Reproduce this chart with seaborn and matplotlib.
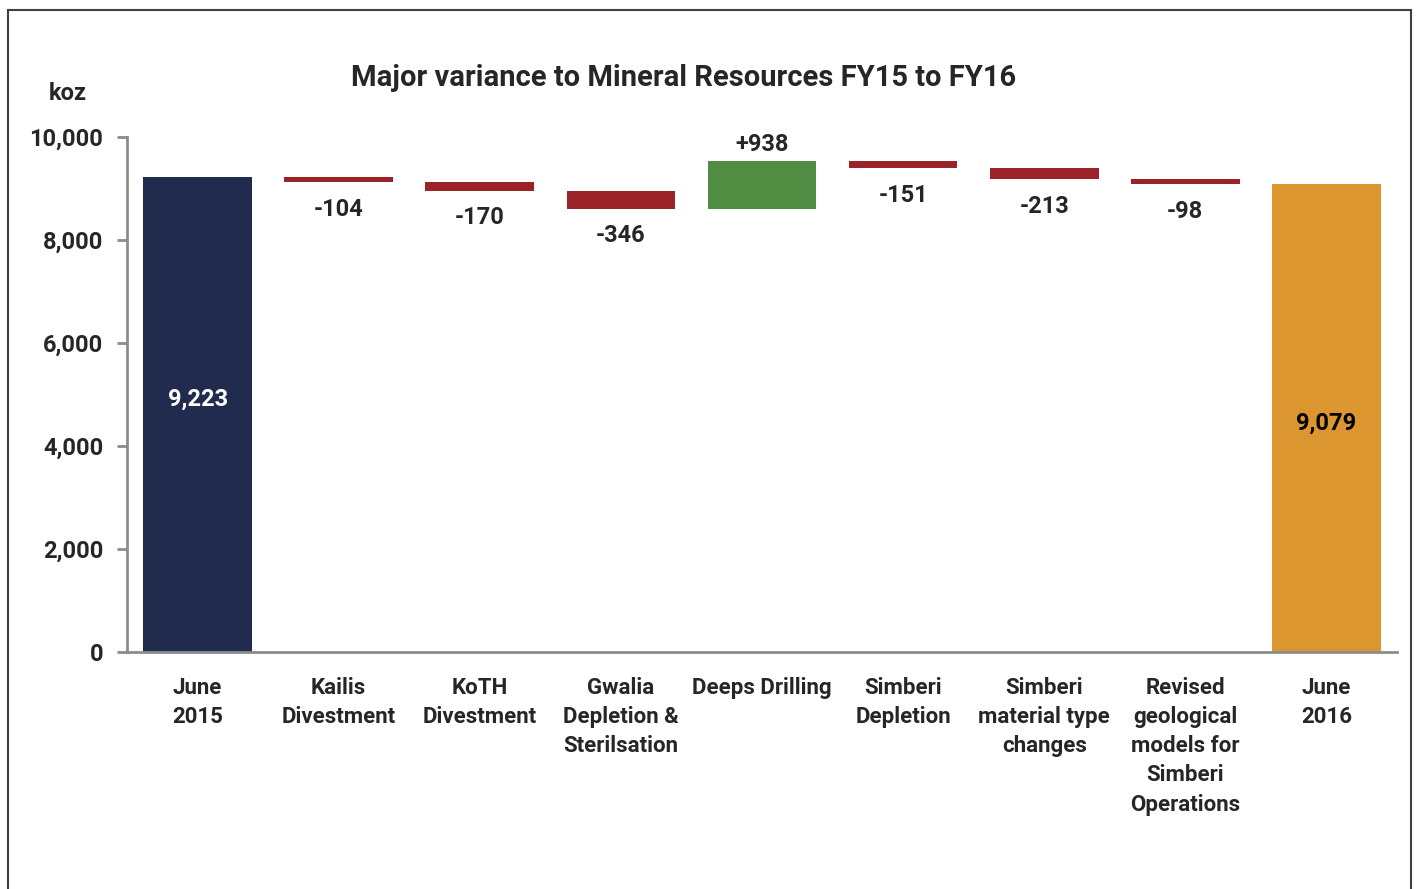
import matplotlib
matplotlib.use("Agg")
import matplotlib.pyplot as plt
import seaborn as sns
import numpy as np
from matplotlib.patches import Rectangle

# data
categories = ["June\n2015", "Kailis\nDivestment", "KoTH\nDivestment",
              "Gwalia\nDepletion &\nSterilsation", "Deeps Drilling",
              "Simberi\nDepletion", "Simberi\nmaterial type\nchanges",
              "Revised\ngeological\nmodels for\nSimberi\nOperations",
              "June\n2016"]
start_total = 9223
changes = [-104, -170, -346, 938, -151, -213, -98]
end_total = 9079

bar_colors = ["#202B4D"] + ["#9B2229" if c < 0 else "#518C43" for c in changes] + ["#DC962F"]

# waterfall geometry
running = start_total + np.cumsum([0] + changes)
bottoms = [0]
tops = [start_total]
for i, c in enumerate(changes):
    prev = running[i]
    bottoms.append(min(prev, prev + c))
    tops.append(max(prev, prev + c))
bottoms.append(0)
tops.append(end_total)

sns.set_theme(style="white")
plt.rcParams["font.family"] = ["Roboto", "DejaVu Sans"]
plt.rcParams["font.weight"] = "bold"

fig = plt.figure(figsize=(14.16, 8.89), dpi=100)
ax = fig.add_axes([0.0897, 0.2666, 0.8969, 0.5793])

x = list(range(len(categories)))
sns.barplot(x=x, y=tops, hue=x, palette=bar_colors, legend=False,
            width=0.77, saturation=1, linewidth=0, ax=ax)
sns.barplot(x=x, y=bottoms, color="white", width=0.79, saturation=1,
            linewidth=0, ax=ax)

ax.set_xlim(-0.5, len(categories) - 0.5)
ax.set_ylim(0, 10000)
ax.set_yticks(range(0, 10001, 2000))
ax.set_yticklabels([f"{v:,}" for v in range(0, 10001, 2000)], fontsize=17, fontweight="bold")
ax.set_xticks(x)
ax.set_xticklabels(categories, fontsize=16, fontweight="bold", linespacing=1.42)
ax.set_xticks(np.arange(-0.5, len(categories)), minor=True)
ax.tick_params(axis="x", which="major", length=0, pad=18)
ax.tick_params(axis="x", which="minor", length=7, width=2, color="#8C8C8C", direction="out")
ax.tick_params(axis="y", length=7, width=2, color="#8C8C8C", direction="out", pad=10, left=True)
for lbl in ax.get_xticklabels():
    lbl.set_verticalalignment("top")
ax.set_xlabel("")
ax.set_ylabel("")
for s in ["top", "right"]:
    ax.spines[s].set_visible(False)
for s in ["left", "bottom"]:
    ax.spines[s].set_color("#8C8C8C")
    ax.spines[s].set_linewidth(2)

# value labels
ax.text(0, start_total / 2 + 300, f"{start_total:,}", color="white", ha="center",
        va="center", fontsize=17, fontweight="bold")
ax.text(len(categories) - 1, end_total / 2 - 100, f"{end_total:,}", color="black",
        ha="center", va="center", fontsize=17, fontweight="bold")
for i, c in enumerate(changes, start=1):
    if c < 0:
        ax.annotate(f"{c}", (i, bottoms[i]), xytext=(0, -11), textcoords="offset points",
                    ha="center", va="top", fontsize=17, fontweight="bold")
    else:
        ax.annotate(f"+{c}", (i, tops[i]), xytext=(0, 3), textcoords="offset points",
                    ha="center", va="bottom", fontsize=17, fontweight="bold")

fig.text(684 / 1416, 1 - 78 / 889, "Major variance to Mineral Resources FY15 to FY16",
         ha="center", va="center", fontsize=21, fontweight="bold")
fig.text(68 / 1416, 1 - 94 / 889, "koz", ha="center", va="center",
         fontsize=17, fontweight="bold")

fig.patches.append(Rectangle((8 / 1416, -0.05), 1403 / 1416, 1.05 - 10 / 889,
                             transform=fig.transFigure, fill=False,
                             edgecolor="#404040", linewidth=1.5))

fig.savefig("out.png", dpi=100)
